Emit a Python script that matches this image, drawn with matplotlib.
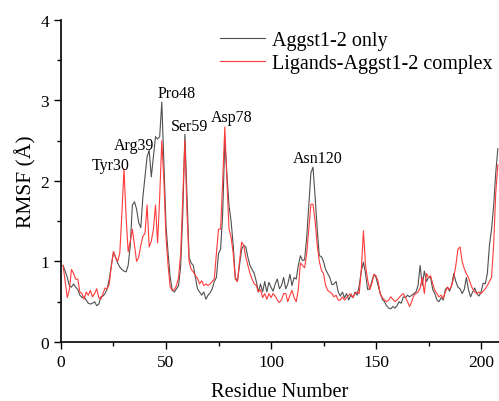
import numpy as np
import matplotlib
matplotlib.use('Agg')
import matplotlib.pyplot as plt

plt.rcParams['font.family'] = ['Liberation Serif', 'DejaVu Serif']
plt.rcParams['mathtext.fontset'] = 'stix'

# -----------------------------------------------------------------------
# RMSF per residue
# -----------------------------------------------------------------------
residues = list(range(1, 209))

rmsf_apo = [
    0.95, 0.88, 0.80, 0.70, 0.68, 0.72, 0.68, 0.65, 0.58, 0.55,
    0.56, 0.52, 0.48, 0.47, 0.48, 0.50, 0.45, 0.47, 0.56, 0.57,
    0.60, 0.66, 0.78, 0.95, 1.12, 1.05, 0.98, 0.93, 0.90, 0.88,
    0.87, 0.95, 1.20, 1.70, 1.74, 1.65, 1.48, 1.42, 1.80, 2.05,
    2.30, 2.38, 2.05, 2.30, 2.55, 2.52, 2.55, 2.98, 2.20, 1.45,
    1.10, 0.80, 0.64, 0.62, 0.66, 0.70, 0.95, 1.60, 2.58, 1.80,
    1.05, 0.98, 0.95, 0.80, 0.66, 0.62, 0.58, 0.62, 0.53, 0.58,
    0.61, 0.66, 0.75, 0.80, 1.10, 1.15, 1.60, 2.50, 2.10, 1.69,
    1.50, 1.20, 0.80, 0.75, 0.95, 1.15, 1.20, 1.18, 1.05, 0.95,
    0.90, 0.85, 0.75, 0.62, 0.72, 0.62, 0.75, 0.62, 0.74, 0.68,
    0.63, 0.72, 0.78, 0.66, 0.70, 0.80, 0.66, 0.72, 0.84, 0.70,
    0.80, 0.78, 0.95, 1.07, 1.01, 1.02, 1.30, 1.70, 2.10, 2.17,
    1.80, 1.40, 1.07, 1.06, 1.00, 0.90, 0.85, 0.80, 0.71, 0.72,
    0.75, 0.62, 0.57, 0.62, 0.55, 0.60, 0.52, 0.58, 0.55, 0.62,
    0.58, 0.70, 0.88, 0.99, 0.85, 0.65, 0.66, 0.75, 0.84, 0.80,
    0.70, 0.60, 0.53, 0.50, 0.45, 0.42, 0.41, 0.44, 0.42, 0.45,
    0.50, 0.48, 0.56, 0.55, 0.58, 0.56, 0.58, 0.60, 0.62, 0.70,
    0.95, 0.70, 0.88, 0.75, 0.80, 0.80, 0.65, 0.60, 0.52, 0.50,
    0.55, 0.52, 0.65, 0.68, 0.63, 0.70, 0.85, 0.75, 0.68, 0.66,
    0.60, 0.65, 0.80, 0.65, 0.56, 0.62, 0.67, 0.60, 0.57, 0.62,
    0.73, 0.72, 0.85, 1.20, 1.40, 1.69, 2.10, 2.40,
]

rmsf_complex = [
    0.95, 0.75, 0.55, 0.65, 0.90, 0.85, 0.78, 0.78, 0.62, 0.60,
    0.53, 0.62, 0.58, 0.64, 0.56, 0.60, 0.66, 0.55, 0.53, 0.60,
    0.67, 0.66, 0.72, 0.95, 1.12, 1.05, 1.00, 1.10, 1.60, 2.15,
    1.55, 1.12, 1.25, 1.40, 1.20, 1.00, 1.05, 1.20, 1.31, 1.35,
    1.70, 1.18, 1.25, 1.40, 1.70, 1.23, 1.80, 2.50, 2.00, 1.30,
    0.95, 0.68, 0.64, 0.65, 0.70, 0.80, 1.10, 1.80, 2.50, 1.60,
    1.00, 0.90, 0.87, 0.82, 0.79, 0.72, 0.76, 0.70, 0.72, 0.70,
    0.72, 0.75, 0.78, 1.10, 1.40, 1.40, 2.00, 2.67, 2.00, 1.40,
    1.30, 1.10, 0.78, 0.75, 1.00, 1.24, 1.20, 1.05, 0.95, 0.85,
    0.78, 0.72, 0.70, 0.62, 0.65, 0.55, 0.60, 0.53, 0.60, 0.55,
    0.60, 0.57, 0.52, 0.49, 0.52, 0.60, 0.60, 0.50, 0.58, 0.64,
    0.55, 0.50, 0.65, 0.98, 0.95, 0.92, 1.10, 1.40, 1.71, 1.71,
    1.50, 1.20, 1.00, 0.89, 0.85, 0.70, 0.64, 0.62, 0.60, 0.56,
    0.58, 0.52, 0.52, 0.56, 0.52, 0.55, 0.58, 0.60, 0.55, 0.60,
    0.62, 0.60, 0.90, 1.38, 0.95, 0.77, 0.65, 0.72, 0.84, 0.82,
    0.75, 0.60, 0.55, 0.52, 0.50, 0.52, 0.56, 0.53, 0.50, 0.52,
    0.55, 0.58, 0.60, 0.55, 0.50, 0.44, 0.50, 0.58, 0.60, 0.62,
    0.67, 0.80, 0.60, 0.85, 0.80, 0.82, 0.72, 0.64, 0.60, 0.56,
    0.58, 0.54, 0.62, 0.68, 0.65, 0.70, 0.80, 0.95, 1.15, 1.18,
    1.00, 0.91, 0.85, 0.80, 0.72, 0.66, 0.62, 0.60, 0.62, 0.60,
    0.63, 0.66, 0.70, 0.75, 0.80, 1.20, 1.85, 2.20,
]

# labelled residues: (text, x, y) in data units
peak_labels = ['Tyr30', 'Arg39', 'Pro48', 'Ser59', 'Asp78', 'Asn120']
peak_x = [23.8, 34.8, 55.0, 61.4, 81.4, 122.4]
peak_y = [2.20, 2.45, 3.09, 2.68, 2.79, 2.29]

# -----------------------------------------------------------------------
# Plot
# -----------------------------------------------------------------------
fig = plt.figure(figsize=(4.99, 4.02), dpi=100)
ax = fig.add_axes([0.1222, 0.147, 0.878, 0.801])

ax.plot(residues, rmsf_apo, color='#505050', lw=0.8, label='Aggst1-2 only')
ax.plot(residues, rmsf_complex, color='#ff3b3b', lw=0.8,
        label='Ligands-Aggst1-2 complex')

for txt, x, y in zip(peak_labels, peak_x, peak_y):
    ax.text(x, y, txt, ha='center', va='center', fontsize=11.5)

ax.set_xlim(0, 208.6)
ax.set_ylim(0, 4)
ax.set_xticks([0, 50, 100, 150, 200])
ax.set_xticks([25, 75, 125, 175], minor=True)
ax.set_yticks([0, 1, 2, 3, 4])
ax.set_yticks([0.5, 1.5, 2.5, 3.5], minor=True)
ax.tick_params(which='major', direction='out', length=5, width=1,
               labelsize=12.5)
ax.tick_params(which='minor', direction='out', length=3, width=1)

for side in ['top', 'right']:
    ax.spines[side].set_visible(False)
for side in ['left', 'bottom']:
    ax.spines[side].set_linewidth(1.2)

ax.set_xlabel('Residue Number', fontsize=14.7, labelpad=9)
ax.set_ylabel('RMSF (Å)', fontsize=15.5, labelpad=3)

ax.legend(loc='upper left', bbox_to_anchor=(0.364, 0.966), frameon=False,
          fontsize=14.5, handlelength=2.2, handletextpad=0.35,
          labelspacing=0.2, borderpad=0, borderaxespad=0)

plt.savefig('out.png', dpi=100)
